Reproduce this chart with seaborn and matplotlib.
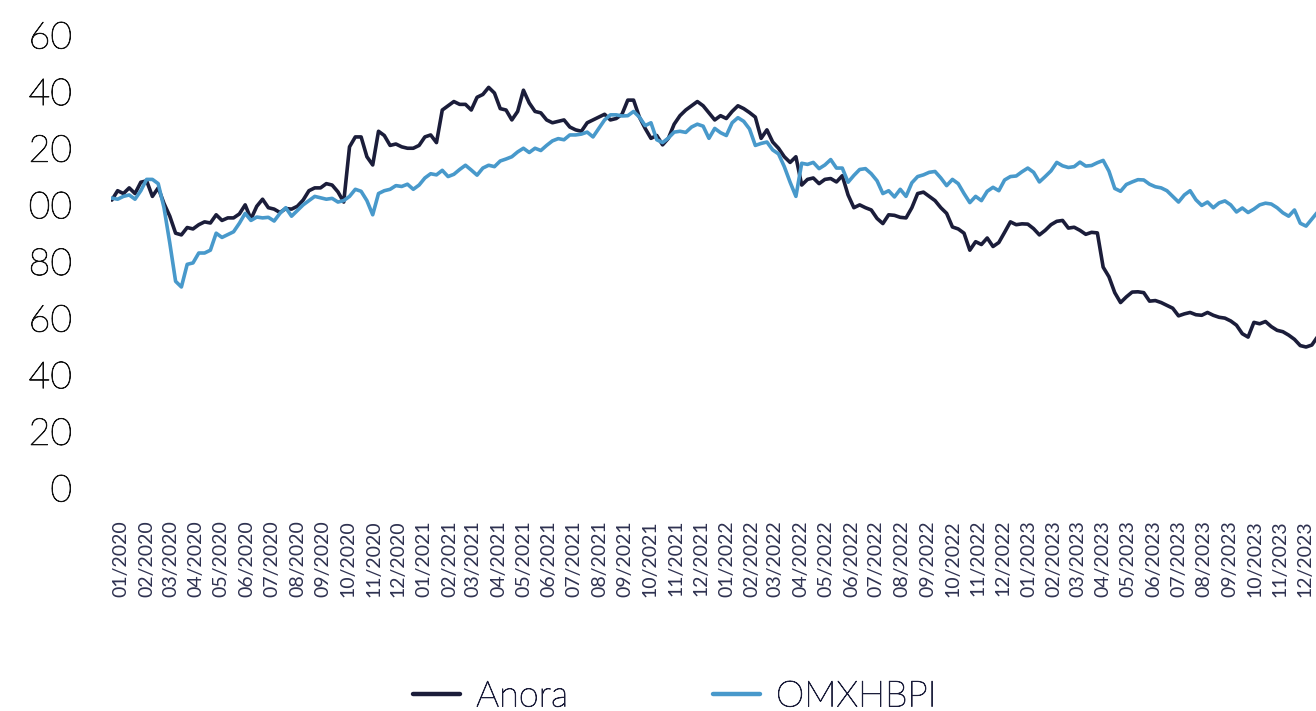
import matplotlib
matplotlib.use("Agg")
import matplotlib.pyplot as plt
import matplotlib.dates as mdates
import matplotlib.transforms as mtransforms
import matplotlib.patheffects as pe
import seaborn as sns
import numpy as np
import pandas as pd

# Weekly closes, indexed to 100 at start
START_DATE = "2020-01-02"
SERIES_NAMES = ["Anora", "OMXHBPI"]
COLORS = ["#1b1d3a", "#4899cb"]

anora = [
    101.7, 105, 104, 106, 104, 108, 108.5, 103, 106, 100.5,
    96, 90, 89.4, 92, 91.5, 93, 94, 93.6, 96.5, 94.5,
    95.4, 95.4, 96.8, 100, 95, 99.5, 102, 99, 98.5, 97.3,
    98.7, 98.5, 99.5, 101.7, 105, 106, 106, 107.5, 107, 104.6,
    101, 120.5, 124, 124, 117, 114.1, 126, 124.5, 121, 121.5,
    120.5, 120, 120, 121, 124, 124.7, 122, 133.5, 135, 136.5,
    135.5, 135.5, 133.5, 138, 139, 141.5, 139.5, 134, 133.5, 130,
    133, 140.5, 136, 133, 132.5, 130, 129, 129.5, 130, 127.5,
    126.5, 126, 129, 130, 131, 132, 130, 130.5, 132, 137,
    137, 131, 127, 123.5, 124.5, 121.2, 123.5, 128.5, 131.5, 133.5,
    135, 136.5, 135, 132.5, 130, 131.5, 130.5, 133, 135, 134,
    132.6, 131, 123.5, 126.5, 122.2, 120, 117, 115, 117, 107,
    109, 109.5, 107.5, 109, 109.3, 108.1, 110.3, 103.5, 99, 100,
    99, 98.2, 95.2, 93.4, 96.5, 96.3, 95.6, 95.4, 99, 104,
    104.5, 103, 101.5, 99, 97, 92.2, 91.5, 90, 84, 87,
    86, 88.3, 85.3, 86.7, 90.3, 94, 93, 93.3, 93.2, 91.6,
    89.4, 91, 93, 94.2, 94.5, 91.8, 92.1, 91, 89.6, 90.3,
    90.1, 78, 74.6, 69, 65.5, 67.5, 69.2, 69.3, 69, 66,
    66.2, 65.5, 64.5, 63.5, 60.8, 61.5, 62, 61.2, 61, 62,
    61, 60.3, 60, 59, 57.5, 54.5, 53.3, 58.5, 58, 58.8,
    57, 55.7, 55.2, 54, 52.5, 50.3, 49.8, 50.5, 53.5,
]

omxhbpi = [
    102.4, 102, 103, 103.5, 102, 105, 109, 109, 107.5, 99,
    86.5, 73, 71, 79, 79.5, 83, 83, 84, 90, 88.5,
    89.5, 90.5, 93.5, 97, 94.5, 95.7, 95.4, 95.6, 94.3, 97,
    99, 96, 98, 100, 101.5, 103, 102.5, 102, 102.3, 101,
    101.5, 103, 105.5, 104.8, 101.5, 96.5, 104, 105, 105.5, 106.8,
    106.5, 107.3, 105.5, 107, 109.5, 111, 110.6, 112.2, 110, 110.8,
    112.5, 114, 112.3, 110.5, 113, 114, 113.5, 115.5, 116.2, 117,
    118.7, 120, 118.5, 120, 119.2, 121, 122.6, 123.4, 123, 124.7,
    124.7, 125, 125.7, 124, 127, 130, 131.8, 131.8, 131.4, 131.5,
    133, 131, 128, 129, 123, 122, 123.6, 125.7, 126, 125.6,
    127.5, 128.5, 127.8, 123.5, 127, 125.5, 124.5, 129, 130.8, 129.5,
    126.8, 121, 121.7, 122.2, 119.4, 118, 113.5, 108, 103, 114.7,
    114.3, 115, 112.8, 114.1, 116, 113, 113, 108, 110.4, 112.5,
    112.8, 111, 108.5, 104, 105, 102.8, 105.5, 103, 107.8, 110,
    110.6, 111.5, 111.8, 109.5, 106.8, 109, 107.5, 104, 100.8, 103,
    101.5, 104.8, 106.2, 105, 108.8, 110, 110.2, 111.7, 113, 111.5,
    108.1, 110, 112, 115, 113.8, 113.2, 113.5, 115.1, 113.7, 113.9,
    114.9, 115.7, 111.9, 105.8, 104.8, 107.2, 108.1, 108.9, 108.8, 107.3,
    106.4, 106, 105, 103, 101, 103.5, 105, 101.8, 99.8, 101,
    99, 100.7, 101.4, 100, 97.5, 98.9, 97.3, 98.5, 100, 100.6,
    100.3, 99, 97.2, 96, 98.2, 93.5, 92.5, 95, 97.5,
]

Y_TICKS = [0, 20, 40, 60, 80, 100, 120, 140, 160]

dates = pd.date_range(START_DATE, periods=len(anora), freq="7D")
df = pd.DataFrame({"date": dates, "Anora": anora, "OMXHBPI": omxhbpi})
long_df = df.melt(id_vars="date", var_name="series", value_name="value")

sns.set_style("white")
plt.rcParams["font.family"] = ["Lato", "DejaVu Sans"]

W, H = 1316, 711
fig = plt.figure(figsize=(W / 100, H / 100), dpi=100)
ax = fig.add_axes([111 / W, (H - 488) / H, 1 - 111 / W, (488 - 35) / H])

sns.lineplot(data=long_df, x="date", y="value", hue="series",
             hue_order=SERIES_NAMES, palette=COLORS, linewidth=2.6,
             ax=ax, legend=False)

ax.set_xlim(pd.Timestamp("2020-01-01"), pd.Timestamp("2023-12-26"))
ax.set_ylim(0, 160)
ax.set_yticks(Y_TICKS)
ax.set_yticklabels([str(t) for t in Y_TICKS])
ax.tick_params(axis="y", length=0, pad=28, labelsize=27, labelcolor="#111111")

ax.xaxis.set_major_locator(mdates.MonthLocator())
ax.xaxis.set_major_formatter(mdates.DateFormatter("%m/%Y"))
ax.tick_params(axis="x", length=0, pad=23, labelsize=14, labelcolor="#2e3150",
               labelrotation=90)
shift = mtransforms.ScaledTranslation(10 / 100, 0, fig.dpi_scale_trans)
for lbl in ax.get_xticklabels():
    lbl.set_transform(lbl.get_transform() + shift)

# light weight, slightly darkened so it reads like the thin dark original
thin_dark = [pe.withStroke(linewidth=0.6, foreground="#111111")]

# the original picture is cropped on the left, hiding the leading "1"
clip = mtransforms.TransformedBbox(
    mtransforms.Bbox.from_bounds(29 / W, 0, 1, 1), fig.transFigure)
for lbl in ax.get_yticklabels():
    lbl.set_fontweight("light")
    lbl.set_path_effects(thin_dark)
    lbl.set_clip_box(clip)
    lbl.set_clip_on(True)

ax.set_xlabel("")
ax.set_ylabel("")
sns.despine(ax=ax, left=True, bottom=True)
ax.grid(False)

handles = [plt.Line2D([], [], color=c, linewidth=3.2) for c in COLORS]
leg = fig.legend(handles, SERIES_NAMES, loc="center", ncol=2,
                 bbox_to_anchor=(675 / W, 1 - 697 / H), frameon=False,
                 fontsize=26, handlelength=1.3, handletextpad=0.45,
                 columnspacing=4.0, labelcolor="#1b1d3a")
for t in leg.get_texts():
    t.set_fontweight("light")
    t.set_path_effects([pe.withStroke(linewidth=0.6, foreground="#1b1d3a")])

fig.savefig("out.png", dpi=100)
